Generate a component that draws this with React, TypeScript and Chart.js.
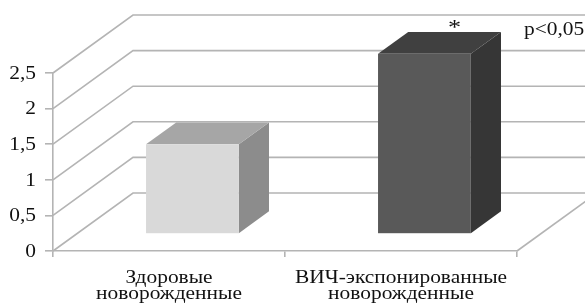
import React, { useEffect, useRef } from 'react';
import { Chart, registerables } from 'chart.js';

Chart.register(...registerables);

// ---- data ----
const categories: string[][] = [
  ['Здоровые', 'новорожденные'],
  ['ВИЧ-экспонированные', 'новорожденные'],
];
const values: number[] = [1.26, 2.53];
const marks: string[] = ['', '*'];
const note = 'p<0,05';
const yMin = 0;
const yMax = 2.5;
const yStep = 0.5;

// ---- styles ----
const frontColors = ['#d9d9d9', '#595959'];
const topColors = ['#a6a6a6', '#404040'];
const sideColors = ['#8c8c8c', '#363636'];
const GRID = '#b4b4b4';
const TEXT = '#111111';
const FONT = '18px "Liberation Serif"';
const MARK_FONT = '22px "Liberation Serif"';
const SX = 1.19;
const DEPTH_X = 80;
const DEPTH_Y = 58;
const D0 = 0.293;
const D1 = 0.67;

function txt(ctx: CanvasRenderingContext2D, s: string, x: number, y: number, align: CanvasTextAlign, baseline: CanvasTextBaseline, font = FONT) {
  ctx.save();
  ctx.translate(x, y);
  ctx.scale(SX, 1);
  ctx.font = font;
  ctx.fillStyle = TEXT;
  ctx.textAlign = align;
  ctx.textBaseline = baseline;
  ctx.fillText(s, 0, 0);
  ctx.restore();
}

const bar3d = {
  id: 'bar3d',
  beforeDatasetsDraw(chart: any) {
    const { ctx, chartArea: a, scales } = chart;
    const y = scales.y;
    ctx.save();
    ctx.strokeStyle = GRID;
    ctx.lineWidth = 1.6;
    y.ticks.forEach((t: any) => {
      const yf = y.getPixelForValue(t.value);
      const yb = yf - DEPTH_Y;
      ctx.beginPath();
      ctx.moveTo(a.left, yf);
      ctx.lineTo(a.left + DEPTH_X, yb);
      ctx.lineTo(a.right + DEPTH_X, yb);
      ctx.stroke();
    });
    ctx.beginPath();
    ctx.moveTo(a.right, a.bottom);
    ctx.lineTo(a.right + DEPTH_X, a.bottom - DEPTH_Y);
    ctx.stroke();

    const meta = chart.getDatasetMeta(0);
    const ox = DEPTH_X * D0, oy = DEPTH_Y * D0;
    const dx = DEPTH_X * (D1 - D0), dy = DEPTH_Y * (D1 - D0);
    meta.data.forEach((el: any, i: number) => {
      const p = el.getProps(['x', 'y', 'base', 'width'], true);
      const l = p.x - p.width / 2 + ox;
      const r = p.x + p.width / 2 + ox;
      const t = p.y - oy;
      const b = p.base - oy;
      ctx.fillStyle = sideColors[i];
      ctx.beginPath();
      ctx.moveTo(r, t); ctx.lineTo(r + dx, t - dy); ctx.lineTo(r + dx, b - dy); ctx.lineTo(r, b);
      ctx.closePath(); ctx.fill();
      ctx.fillStyle = topColors[i];
      ctx.beginPath();
      ctx.moveTo(l, t); ctx.lineTo(l + dx, t - dy); ctx.lineTo(r + dx, t - dy); ctx.lineTo(r, t);
      ctx.closePath(); ctx.fill();
      ctx.fillStyle = frontColors[i];
      ctx.fillRect(l, t, r - l, b - t);
      if (marks[i]) txt(ctx, marks[i], (l + r) / 2 + dx, t - dy + 2, 'center', 'alphabetic', MARK_FONT);
    });
    ctx.restore();
    return false;
  },
  afterDraw(chart: any) {
    const { ctx, scales } = chart;
    const y = scales.y;
    const x = scales.x;
    y.ticks.forEach((t: any) => {
      const label = String(Math.round(t.value * 10) / 10).replace('.', ',');
      txt(ctx, label, 36, y.getPixelForValue(t.value) + 1, 'right', 'middle');
    });
    categories.forEach((lines, i) => {
      const cx = x.getPixelForValue(i);
      lines.forEach((line, j) => {
        txt(ctx, line, cx, 283 + j * 16, 'center', 'alphabetic');
      });
    });
    txt(ctx, note, 524, 35, 'left', 'alphabetic');
  },
};

export default function App() {
  const ref = useRef<HTMLCanvasElement>(null);
  useEffect(() => {
    document.body.style.margin = '0';
    const canvas = ref.current!;
    let chart: Chart | null = null;
    let cancelled = false;
    const make = () => {
      if (cancelled) return;
      chart = new Chart(canvas, {
        type: 'bar',
        data: {
          labels: categories.map((c) => c.join(' ')),
          datasets: [{
            data: values,
            backgroundColor: frontColors,
            barPercentage: 0.4,
            categoryPercentage: 1,
          }],
        },
        options: {
          responsive: false,
          animation: false,
          layout: { padding: { top: 73, right: 68, left: 0, bottom: 0 } },
          plugins: { legend: { display: false }, tooltip: { enabled: false } },
          scales: {
            x: {
              grid: { drawOnChartArea: false, tickLength: 6, color: GRID, lineWidth: 1.6, offset: true },
              border: { color: GRID, width: 1.6 },
              ticks: { display: false },
              afterFit: (s: any) => { s.height = 57; },
            },
            y: {
              min: yMin,
              max: yMax,
              ticks: { stepSize: yStep, display: false },
              grid: { drawOnChartArea: false, tickLength: 8, color: GRID, lineWidth: 1.6 },
              border: { color: GRID, width: 1.6 },
              afterFit: (s: any) => { s.width = 53; },
            },
          },
        } as any,
        plugins: [bar3d as any],
      });
    };
    const fonts: any = (document as any).fonts;
    if (fonts && fonts.load) {
      Promise.all([
        fonts.load(FONT, 'Здоровые 0123456789,*<p'),
        fonts.load(MARK_FONT, '*'),
      ]).then(make, make);
    } else {
      make();
    }
    return () => { cancelled = true; if (chart) chart.destroy(); };
  }, []);
  return (
    <div style={{ width: 585, height: 308 }}>
      <canvas ref={ref} width={585} height={308} style={{ display: 'block' }} />
    </div>
  );
}
